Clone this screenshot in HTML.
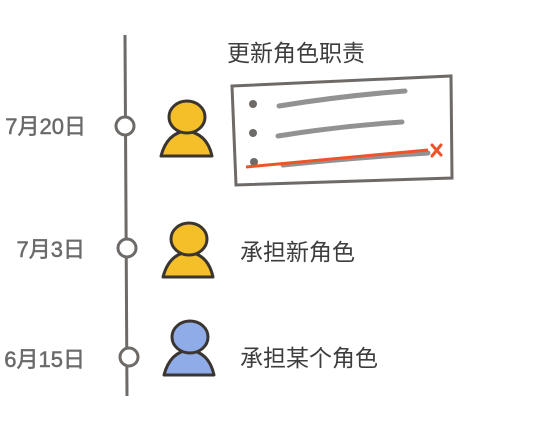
<!DOCTYPE html>
<html><head><meta charset="utf-8"><style>
html,body{margin:0;padding:0;background:#fff;width:546px;height:431px;overflow:hidden}
svg text{font-family:"Liberation Sans","Noto Sans CJK SC",sans-serif}
</style></head><body>
<svg width="546" height="431" viewBox="0 0 546 431">
<line x1="125" y1="35" x2="127" y2="396" stroke="#6e6a68" stroke-width="3"/>
<g fill="#fff" stroke="#6e6a68" stroke-width="3">
<circle cx="125" cy="126" r="9"/>
<circle cx="127" cy="248" r="9"/>
<circle cx="129" cy="357" r="9"/>
</g>
<g fill="#6a6a6a" font-size="22" text-anchor="end" stroke="#6a6a6a" stroke-width="0.5">
<text x="86" y="134">7月20日</text>
<text x="85" y="257">7月3日</text>
<text x="85" y="367">6月15日</text>
</g>
<g stroke="#3a3530" stroke-width="3" stroke-linejoin="round">
<path d="M161,156 Q167,133 186,131 Q207,133 212,156 Z" fill="#f4bf28"/>
<ellipse cx="187" cy="117" rx="18" ry="16" fill="#f4bf28"/>
<path d="M163,277 Q169,254 188,252 Q208,254 213,277 Z" fill="#f4bf28"/>
<ellipse cx="189" cy="239" rx="18" ry="16" fill="#f4bf28"/>
<path d="M164,375 Q170,352 189,350 Q209,352 214,375 Z" fill="#8fabe8"/>
<ellipse cx="190" cy="337" rx="18" ry="16" fill="#8fabe8"/>
</g>
<polygon points="232,86 451,76 452,178 236,185" fill="#fff" stroke="#6e6a68" stroke-width="3"/>
<g fill="#6e6a68"><circle cx="253" cy="104" r="4"/><circle cx="253" cy="133" r="4"/><circle cx="254" cy="162" r="4"/></g>
<g stroke="#777" stroke-width="5" stroke-linecap="round" opacity="0.8">
<path d="M279,106 Q340,96 405,91"/>
<path d="M278,136 Q340,126 402,122"/>
<path d="M283,165 Q350,158 428,153"/>
</g>
<line x1="246" y1="167" x2="428" y2="150" stroke="#f0532a" stroke-width="3"/>
<path d="M432,145 L441,155 M441,145 L432,156" stroke="#f0532a" stroke-width="3" stroke-linecap="round"/>
<g fill="#3d3d3d" font-size="23">
<text x="227" y="61">更新角色职责</text>
<text x="240" y="260">承担新角色</text>
<text x="240" y="366">承担某个角色</text>
</g>
</svg>
</body></html>
